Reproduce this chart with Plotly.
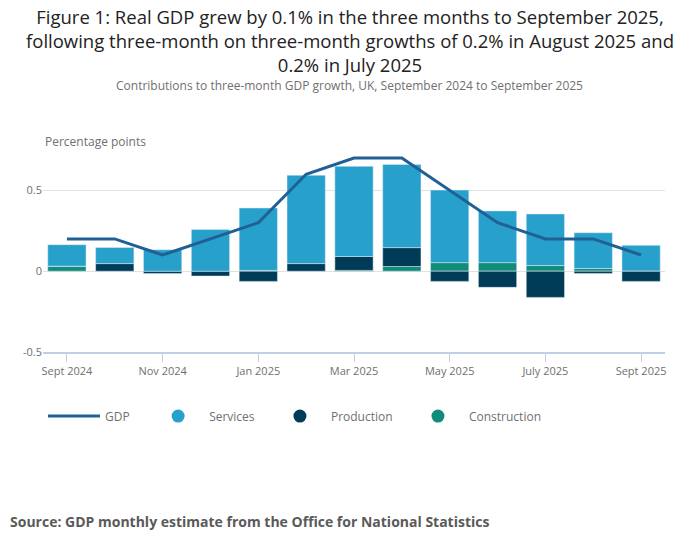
import plotly.graph_objects as go

months = ["Sept 2024", "Oct 2024", "Nov 2024", "Dec 2024", "Jan 2025", "Feb 2025",
          "Mar 2025", "Apr 2025", "May 2025", "June 2025", "July 2025", "Aug 2025", "Sept 2025"]
services = [0.133, 0.100, 0.133, 0.258, 0.386, 0.547, 0.558, 0.515, 0.449, 0.320, 0.319, 0.221, 0.158]
production = [0.000, 0.047, -0.015, -0.030, -0.063, 0.047, 0.086, 0.117, -0.063, -0.100, -0.162, -0.014, -0.063]
construction = [0.031, 0.000, 0.000, 0.000, 0.005, 0.000, 0.005, 0.029, 0.053, 0.053, 0.035, 0.017, 0.002]
gdp = [0.2, 0.2, 0.1, 0.2, 0.3, 0.6, 0.7, 0.7, 0.5, 0.3, 0.2, 0.2, 0.1]

tick_months = ["Sept 2024", "Nov 2024", "Jan 2025", "Mar 2025", "May 2025", "July 2025", "Sept 2025"]
y_ticks = [-0.5, 0, 0.5]
y_ticktext = ["-0.5", "0", "0.5"]

title_lines = [
    "Figure 1: Real GDP grew by 0.1% in the three months to September 2025,",
    "following three-month on three-month growths of 0.2% in August 2025 and",
    "0.2% in July 2025",
]
subtitle = "Contributions to three-month GDP growth, UK, September 2024 to September 2025"
source = "Source: GDP monthly estimate from the Office for National Statistics"

C_SERV = "#27a0cc"
C_PROD = "#003c57"
C_CONS = "#118c7b"
C_GDP = "#206095"
GREY = "#707070"
FONT = "Open Sans"
NB = "\u00a0"

fig = go.Figure()
fig.add_trace(go.Bar(x=months, y=construction, marker_color=C_CONS, showlegend=False, name="Construction"))
fig.add_trace(go.Bar(x=months, y=production, marker_color=C_PROD, showlegend=False, name="Production"))
fig.add_trace(go.Bar(x=months, y=services, marker_color=C_SERV, showlegend=False, name="Services"))
fig.add_trace(go.Scatter(x=months, y=gdp, mode="lines", line=dict(color=C_GDP, width=3),
                         name="GDP" + NB * 4, legendrank=1))
# legend-only markers (circles) for the bar series
for nm, col, rk, pad in [("Services", C_SERV, 2, 3), ("Production", C_PROD, 3, 3), ("Construction", C_CONS, 4, 0)]:
    fig.add_trace(go.Scatter(x=[None], y=[None], mode="markers",
                             marker=dict(symbol="circle", size=13, color=col),
                             name=nm + NB * pad, legendrank=rk))

annotations = [
    dict(text=subtitle, xref="paper", yref="paper", x=0.492, y=1.317, xanchor="center", yanchor="middle",
         showarrow=False, font=dict(family=FONT, size=12, color=GREY)),
    dict(text="Percentage points", xref="paper", yref="paper", x=0.0, y=1.04,
         xanchor="left", yanchor="middle", showarrow=False,
         font=dict(family=FONT, size=12, color=GREY)),
    dict(text="<b>" + source + "</b>", xref="paper", yref="paper", x=-0.056, y=-0.837,
         xanchor="left", yanchor="middle", showarrow=False,
         font=dict(family=FONT, size=14, color="#5a5a5a")),
]

fig.update_layout(
    width=700, height=549,
    paper_bgcolor="white", plot_bgcolor="white",
    barmode="relative", bargap=0.2,
    margin=dict(l=43, r=35, t=150, b=197),
    font=dict(family=FONT, color=GREY, size=11),
    title=dict(text="<br>".join(title_lines),
               x=0.5, xref="container", xanchor="center",
               y=1 - 23.5 / 549, yref="container", yanchor="middle",
               font=dict(family=FONT, size=18.5, color="#222222")),
    legend=dict(orientation="h", x=0.0, xanchor="left", y=-0.317, yanchor="middle",
                font=dict(family=FONT, size=12, color=GREY),
                itemwidth=52, itemclick=False),
    xaxis=dict(type="category", categoryorder="array", categoryarray=months,
               range=[-0.5, 12.5],
               tickmode="array", tickvals=tick_months, ticktext=tick_months,
               ticks="outside", ticklen=8, tickcolor="#bfcfe6", tickwidth=1,
               showline=True, linecolor="#bfcfe6", linewidth=1.5,
               showgrid=False, tickfont=dict(size=11, color=GREY)),
    yaxis=dict(range=[-0.5, 0.75], tickmode="array", tickvals=y_ticks, ticktext=y_ticktext,
               showgrid=True, gridcolor="#e2e2e2", gridwidth=1,
               zeroline=True, zerolinecolor="#e2e2e2", zerolinewidth=1,
               showline=False, ticks="", tickfont=dict(size=11, color=GREY)),
    annotations=annotations,
)

fig.write_html("out.html", config={"displayModeBar": False},
               post_script="document.body.style.margin='0';")
